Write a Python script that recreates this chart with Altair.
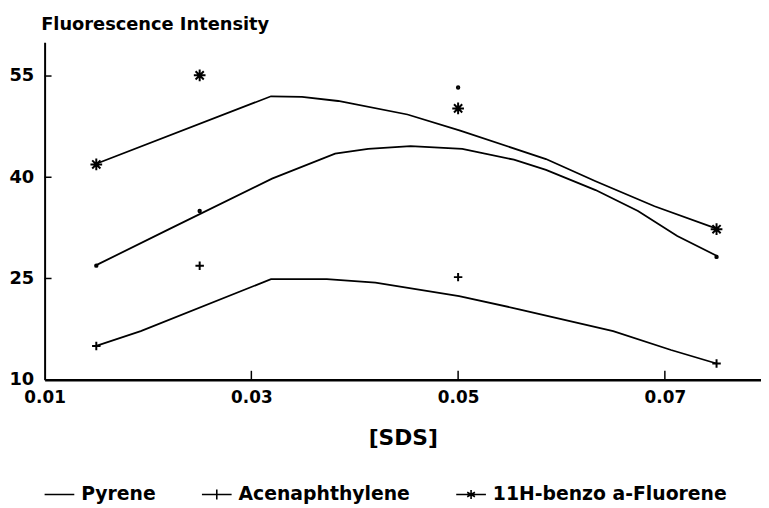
import altair as alt
import pandas as pd

# ---- measured data ----
series_names = ["Pyrene", "Acenaphthylene", "11H-benzo a-Fluorene"]
conc = [0.015, 0.025, 0.05, 0.075]
pyrene = [26.9, 35.0, 53.3, 28.2]
acenaphthylene = [15.0, 26.9, 25.2, 12.4]
benzofluorene = [41.9, 55.1, 50.2, 32.3]

# fitted curves
pyr_curve_x = [0.0149, 0.0219, 0.032, 0.0381, 0.0413, 0.0454, 0.0504, 0.0554, 0.0585, 0.0633, 0.0674, 0.0712, 0.0751]
pyr_curve_y = [26.9, 32.2, 39.8, 43.5, 44.2, 44.6, 44.2, 42.6, 41.1, 38.1, 35.0, 31.3, 28.3]
ace_curve_x = [0.015, 0.0193, 0.0319, 0.0373, 0.042, 0.0501, 0.056, 0.065, 0.0706, 0.075]
ace_curve_y = [15.0, 17.2, 24.9, 24.9, 24.4, 22.4, 20.4, 17.2, 14.4, 12.4]
ben_curve_x = [0.015, 0.0319, 0.0349, 0.0384, 0.0451, 0.0502, 0.0585, 0.0633, 0.069, 0.075]
ben_curve_y = [42.0, 52.0, 51.9, 51.3, 49.3, 46.9, 42.7, 39.4, 35.7, 32.4]

y_ticks = [10, 25, 40, 55]
x_ticks = [0.01, 0.03, 0.05, 0.07]
inner_y_ticks = [25, 40, 55]
inner_x_ticks = [0.03, 0.05, 0.07]

# ---- tables ----
pts = pd.DataFrame(
    [{"series": s, "x": c, "y": v}
     for s, vals in zip(series_names, [pyrene, acenaphthylene, benzofluorene])
     for c, v in zip(conc, vals)]
)
curve_rows = []
for s, xs, ys in zip(series_names,
                     [pyr_curve_x, ace_curve_x, ben_curve_x],
                     [pyr_curve_y, ace_curve_y, ben_curve_y]):
    for i, (a, b) in enumerate(zip(xs, ys)):
        curve_rows.append({"series": s, "x": a, "y": b, "idx": i})
curves = pd.DataFrame(curve_rows)
yt = pd.DataFrame({"y": inner_y_ticks})
xt = pd.DataFrame({"x": inner_x_ticks})

FONT = "DejaVu Sans"
W, H = 724, 341

X = alt.X("x:Q", scale=alt.Scale(domain=[0.01, 0.0793], nice=False, zero=False),
          axis=alt.Axis(values=x_ticks, format=".2f", ticks=False, grid=False,
                        domainColor="black", domainWidth=2.5,
                        labelFont=FONT, labelFontWeight="bold", labelFontSize=17,
                        labelColor="black", labelPadding=10, labelFlush=False,
                        title="[SDS]", titleFont=FONT, titleFontSize=22,
                        titleFontWeight="bold", titleColor="black", titlePadding=22))
Y = alt.Y("y:Q", scale=alt.Scale(domain=[10, 60], nice=False, zero=False),
          axis=alt.Axis(values=y_ticks, ticks=False, grid=False,
                        domainColor="black", domainWidth=2,
                        labelFont=FONT, labelFontWeight="bold", labelFontSize=18,
                        labelColor="black", labelPadding=11, labelBaseline="middle",
                        labelFlush=False,
                        title="Fluorescence Intensity", titleAngle=0, titleAlign="left",
                        titleBaseline="alphabetic", titleX=-4, titleY=-13,
                        titleFont=FONT, titleFontSize=18, titleFontWeight="bold",
                        titleColor="black"))

shape_dom = series_names
marker_paths = [
    "circle",
    "M-1,0H1M0,-1V1",
    "M0,-1V1M-1,0H1M-0.7,-0.7L0.7,0.7M-0.7,0.7L0.7,-0.7",
]
legend_paths = [
    "M-1,0H1M-0.06,0H0.06",
    "M-1,0H1M0,-0.33V0.33",
    "M-1,0H1M0,-0.3V0.3M-0.26,-0.15L0.26,0.15M-0.26,0.15L0.26,-0.15",
]

lines = alt.Chart(curves).mark_line(color="black", strokeWidth=1.8,
                                    interpolate="linear").encode(
    x=X, y=Y, detail="series:N", order="idx:Q")

points = alt.Chart(pts).mark_point(filled=False, color="black", strokeWidth=2,
                                   opacity=1).encode(
    x=X, y=Y,
    shape=alt.Shape("series:N", scale=alt.Scale(domain=shape_dom, range=marker_paths),
                    legend=None),
    size=alt.Size("series:N", scale=alt.Scale(domain=shape_dom, range=[6, 140, 135]),
                  legend=None),
)

legend_layer = alt.Chart(pts).mark_point(filled=False, color="black",
                                         opacity=0).encode(
    x=X, y=Y,
    shape=alt.Shape("series:N", scale=alt.Scale(domain=shape_dom, range=legend_paths),
                    legend=alt.Legend(orient="none", legendX=-1, legendY=441,
                                      direction="horizontal", title=None,
                                      symbolSize=900, symbolStrokeWidth=1.6,
                                      symbolStrokeColor="black", symbolOpacity=1,
                                      symbolFillColor="transparent",
                                      labelFont=FONT, labelFontWeight="bold",
                                      labelFontSize=19, labelColor="black",
                                      labelLimit=0,
                                      labelOffset=6, columnPadding=42)),
)

ytick_layer = alt.Chart(yt).mark_rule(color="black", strokeWidth=1.5).encode(
    x=alt.value(0), x2=alt.value(7), y=Y)
xtick_layer = alt.Chart(xt).mark_rule(color="black", strokeWidth=1.5).encode(
    x=X, y=alt.value(H), y2=alt.value(H - 9))

chart = alt.layer(lines, points, legend_layer, ytick_layer, xtick_layer).resolve_scale(
    shape="independent", size="independent"
).properties(
    width=W, height=H,
    autosize=alt.AutoSizeParams(type="none"),
    padding={"left": 37, "top": 32, "right": 0, "bottom": 126},
).configure(background="white").configure_view(stroke=None)

chart.save("out.html", embed_options={"renderer": "svg", "actions": False})
